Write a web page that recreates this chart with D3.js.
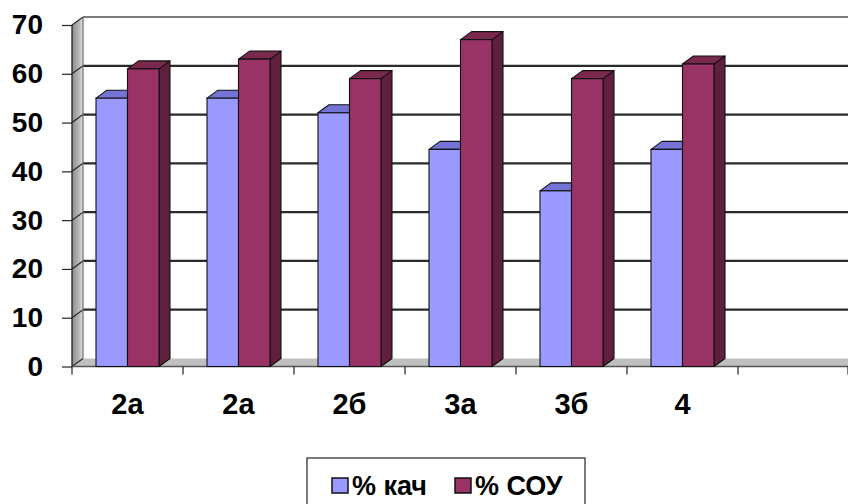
<!DOCTYPE html>
<html>
<head>
<meta charset="utf-8">
<script src="https://cdn.jsdelivr.net/npm/d3@7"></script>
<style>
  body { margin: 0; background: #fff; }
  svg { display: block; font-family: Arial, "Liberation Sans", sans-serif; }
</style>
</head>
<body>
<div id="chart"></div>
<script>
// data
var categories = ["2а", "2а", "2б", "3а", "3б", "4", ""];
var seriesNames = ["% кач", "% СОУ"];
var kach = [55, 55, 52, 44.5, 36, 44.5];
var sou = [61, 63, 59, 67, 59, 62];
var yTicks = [0, 10, 20, 30, 40, 50, 60, 70];

var svgWidth = 848, svgHeight = 504;
var dx = 11, dy = -8; // depth of the 3d box

var svg = d3.select("#chart").append("svg")
  .attr("width", svgWidth)
  .attr("height", svgHeight);

var xScale = d3.scaleBand().domain(d3.range(categories.length)).range([72, 849]);
var inner = d3.scaleBand().domain(seriesNames).range([24, xScale.bandwidth() - 24]);
var yScale = d3.scaleLinear().domain([0, 70]).range([366.5, 25]);

var x0 = 72, x1 = 849;
var yBase = yScale(0), yTop = yScale(70);

// gradient for left wall
var defs = svg.append("defs");
var grad = defs.append("linearGradient").attr("id", "wall")
  .attr("x1", "0").attr("x2", "1").attr("y1", "0").attr("y2", "0");
grad.append("stop").attr("offset", "0").attr("stop-color", "#8c8c8c");
grad.append("stop").attr("offset", "0.7").attr("stop-color", "#bdbdbd");
grad.append("stop").attr("offset", "1").attr("stop-color", "#e6e6e6");

// left wall
svg.append("polygon")
  .attr("points", [[x0, yBase], [x0, yTop], [x0 + dx, yTop + dy], [x0 + dx, yBase + dy]].join(" "))
  .attr("fill", "url(#wall)");

// floor
svg.append("polygon")
  .attr("points", [[x0, yBase], [x0 + dx, yBase + dy], [x1, yBase + dy], [x1, yBase]].join(" "))
  .attr("fill", "#c0c0c0");

// gridlines on back + side walls
var grid = svg.append("g");
yTicks.forEach(function(t) {
  var y = yScale(t);
  if (t > 0) {
    grid.append("line")
      .attr("x1", x0 + dx).attr("x2", x1)
      .attr("y1", y + dy).attr("y2", y + dy)
      .attr("stroke", t == 70 ? "#7a7a7a" : "#2a2a2a")
      .attr("stroke-width", 2.2);
  }
  grid.append("line")
    .attr("x1", x0).attr("x2", x0 + dx)
    .attr("y1", y).attr("y2", y + dy)
    .attr("stroke", "#2a2a2a").attr("stroke-width", 1.2);
});
// back wall left edge
grid.append("line")
  .attr("x1", x0 + dx).attr("x2", x0 + dx)
  .attr("y1", yTop + dy).attr("y2", yBase + dy)
  .attr("stroke", "#6a6a6a").attr("stroke-width", 1.2);

// axis lines
svg.append("line")
  .attr("x1", x0).attr("x2", x0).attr("y1", yTop).attr("y2", yBase)
  .attr("stroke", "#222").attr("stroke-width", 1.3);
svg.append("line")
  .attr("x1", x0).attr("x2", x1).attr("y1", yBase).attr("y2", yBase)
  .attr("stroke", "#555").attr("stroke-width", 1.3);

// y axis (ticks + labels)
var yAxis = d3.axisLeft(yScale).tickValues(yTicks).tickSize(10).tickPadding(19);
var yG = svg.append("g")
  .attr("transform", "translate(" + x0 + ",0)")
  .call(yAxis);
yG.select(".domain").remove();
yG.selectAll("line").attr("stroke", "#222").attr("stroke-width", 1.2);
yG.selectAll("text")
  .attr("font-size", "28px").attr("font-weight", "bold")
  .attr("font-family", "Arial, 'Liberation Sans', sans-serif")
  .attr("fill", "#000");

// x axis ticks at category boundaries
var xTickPos = d3.range(categories.length + 1).map(function(i) {
  return i < categories.length ? xScale(i) : x1 - 1;
});
svg.append("g").selectAll("line").data(xTickPos).enter().append("line")
  .attr("x1", d => d).attr("x2", d => d)
  .attr("y1", yBase).attr("y2", yBase + 8)
  .attr("stroke", "#222").attr("stroke-width", 1.2);

// x labels
svg.append("g").selectAll("text").data(categories).enter().append("text")
  .attr("x", (d, i) => xScale(i) + xScale.bandwidth() / 2)
  .attr("y", 414)
  .attr("text-anchor", "middle")
  .attr("font-size", "29px").attr("font-weight", "bold")
  .text(d => d);

// bars
var colors = {
  "% кач": { front: "#9999ff", top: "#7474d6", side: "#5c5cb0" },
  "% СОУ": { front: "#993366", top: "#7b284f", side: "#611f3f" }
};
var bars = [];
categories.forEach(function(c, i) {
  if (i < kach.length) {
    bars.push({ i: i, s: "% кач", v: kach[i] });
    bars.push({ i: i, s: "% СОУ", v: sou[i] });
  }
});

var barG = svg.append("g").selectAll("g").data(bars).enter().append("g");
barG.each(function(d) {
  var g = d3.select(this);
  var x = xScale(d.i) + inner(d.s);
  var w = inner.bandwidth();
  var y = yScale(d.v);
  var col = colors[d.s];
  // side
  g.append("polygon")
    .attr("points", [[x + w, y], [x + w + dx, y + dy], [x + w + dx, yBase + dy], [x + w, yBase]].join(" "))
    .attr("fill", col.side).attr("stroke", "#111").attr("stroke-width", 1.1).attr("stroke-linejoin", "round");
  // top
  g.append("polygon")
    .attr("points", [[x, y], [x + w, y], [x + w + dx, y + dy], [x + dx, y + dy]].join(" "))
    .attr("fill", col.top).attr("stroke", "#111").attr("stroke-width", 1.1).attr("stroke-linejoin", "round");
  // front
  g.append("rect")
    .attr("x", x).attr("y", y)
    .attr("width", w).attr("height", yBase - y)
    .attr("fill", col.front).attr("stroke", "#111").attr("stroke-width", 1.1);
});

// legend
var leg = svg.append("g");
leg.append("rect")
  .attr("x", 307).attr("y", 458).attr("width", 278).attr("height", 60)
  .attr("fill", "#fff").attr("stroke", "#222").attr("stroke-width", 1.2);
var legX = [332, 455];
seriesNames.forEach(function(s, i) {
  leg.append("rect")
    .attr("x", legX[i]).attr("y", 478).attr("width", 16).attr("height", 15)
    .attr("fill", colors[s].front).attr("stroke", "#111").attr("stroke-width", 1.5);
  leg.append("text")
    .attr("x", legX[i] + 20).attr("y", 495)
    .attr("font-size", "27px").attr("font-weight", "bold")
    .text(s);
});
</script>
</body>
</html>
